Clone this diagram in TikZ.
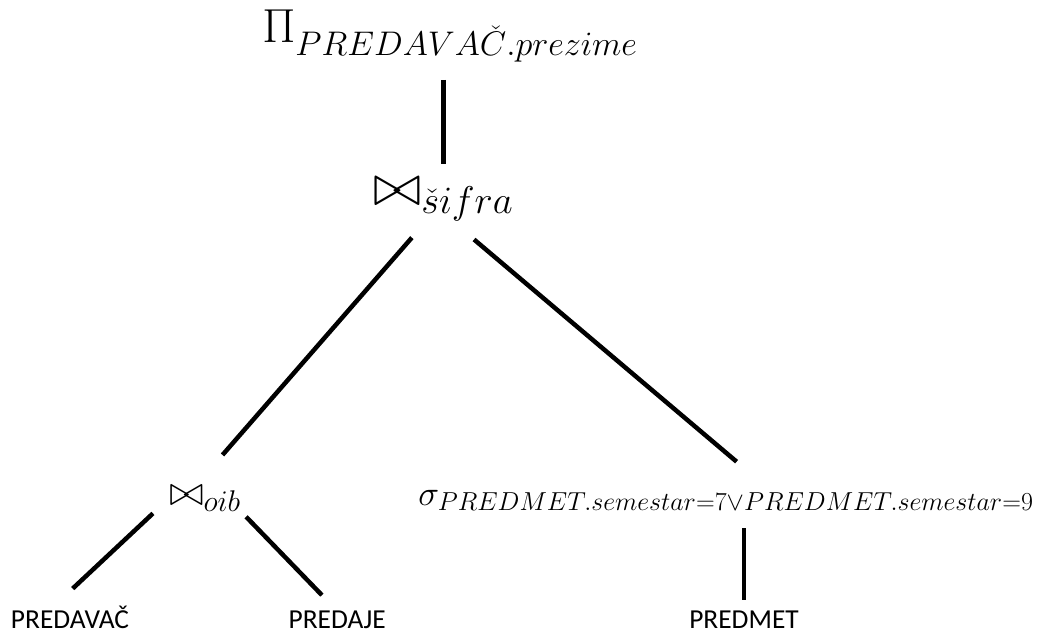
\RequirePackage{fix-cm}
\documentclass[tikz,border=0pt]{standalone}
\usepackage{fontspec}
\newfontfamily\leaffont{Carlito}
\usetikzlibrary{calc}
\DeclareMathSizes{34}{34}{24.3}{17}
\DeclareMathSizes{42}{42}{27.5}{20}
\DeclareMathSizes{30}{30}{21.3}{15}
\DeclareMathSizes{25}{25}{18.5}{13}

\begin{document}
\begin{tikzpicture}[
  op/.style={inner sep=0pt, anchor=base west},
  rel/.style={inner sep=0pt, anchor=base, font=\leaffont\fontsize{19.5}{22}\selectfont},
  edge/.style={line width=3.2pt}
]
\useasboundingbox (0,0) rectangle (26,-15.9);
\node[op,font=\fontsize{34}{38}\selectfont] (proj) at (6.55,-1.05) {$\Pi_{PREDAVA\check{C}.prezime}$};
\node[op,font=\fontsize{42}{46}\selectfont] (sifra) at (9.325,-5.125) {$\bowtie_{\check{s}ifra}$};
\node[op,font=\fontsize{30}{34}\selectfont] (oib) at (4.225,-12.625) {$\bowtie_{oib}$};
\node[op,font=\fontsize{25}{28}\selectfont] (sigma) at (10.45,-12.625) {$\sigma_{PREDMET.semestar=7\vee PREDMET.semestar=9}$};
\node[rel] (predavac) at (1.75,-15.72) {PREDAVAČ};
\node[rel] (predaje) at (8.43,-15.72) {PREDAJE};
\node[rel] (predmet) at (18.6,-15.72) {PREDMET};

\draw[edge,shorten <=0.43cm,shorten >=0.33cm] (sifra.north |- proj.south) -- (sifra.north);
\draw[edge,shorten <=0.53cm,shorten >=1.0cm] ($(sifra.south)+(-0.44,0)$) -- ($(oib.north)+(-0.22,0)$);
\draw[edge,shorten <=0.69cm,shorten >=1.08cm] ($(sifra.south)+(0.24,0)$) -- ($(sigma.north)+(1.09,0)$);
\draw[edge,shorten <=0.55cm,shorten >=0.64cm] (oib.west) -- ($(predavac.north)+(-0.4,0)$);
\draw[edge,shorten <=0.18cm,shorten >=0.55cm] (oib.south east) -- (predaje.north);
\draw[edge,shorten <=0.43cm,shorten >=0.28cm] (predmet.north |- sigma.south) -- (predmet.north);
\end{tikzpicture}
\end{document}
